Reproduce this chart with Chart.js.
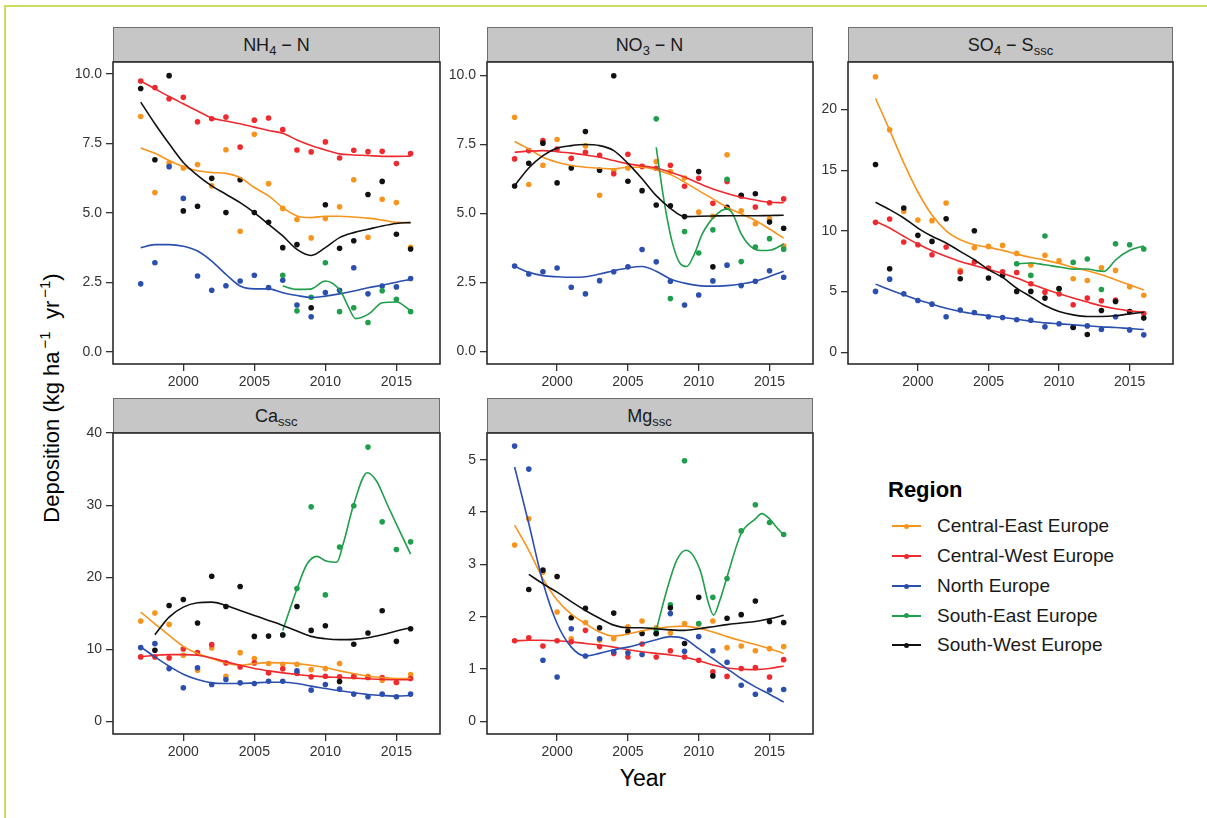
<!DOCTYPE html>
<html><head><meta charset="utf-8">
<script src="https://cdn.jsdelivr.net/npm/chart.js@4.4.1/dist/chart.umd.min.js"></script>
<style>
html,body{margin:0;padding:0;background:#fff;}
body{width:1207px;height:818px;position:relative;overflow:hidden;font-family:"Liberation Sans",Arial,sans-serif;color:#1a1a1a;}
.frame{position:absolute;left:4px;top:5px;width:1210px;height:820px;border-top:2px solid #cadd5e;border-left:2px solid #cadd5e;}
canvas{position:absolute;}
.strip{position:absolute;background:#c6c6c6;border:1px solid #6e6e6e;box-sizing:border-box;text-align:center;font-size:18px;color:#1a1a1a;}
.strip span{position:absolute;left:0;right:0;top:50%;transform:translateY(-50%);white-space:nowrap;line-height:20px;}
.strip sub{font-size:13px;vertical-align:-4px;line-height:0;}
.ytitle{position:absolute;left:50px;top:398px;transform:translate(-50%,-50%) rotate(-90deg);white-space:nowrap;font-size:22px;color:#000;}
.ytitle sup{font-size:15px;vertical-align:9px;margin-left:3px;}
.xtitle{position:absolute;left:643px;top:778px;transform:translate(-50%,-50%);font-size:23px;color:#000;}
.legtitle{position:absolute;left:888px;top:490px;transform:translateY(-50%);font-size:22px;font-weight:bold;color:#000;}
.legitem{position:absolute;left:892px;height:20px;transform:translateY(-50%);}
.legline{position:absolute;left:0;top:9px;width:29px;height:2px;}
.legdot{position:absolute;left:12px;top:7.5px;width:5px;height:5px;border-radius:50%;}
.legtext{position:absolute;left:45px;top:50%;transform:translateY(-50%);white-space:nowrap;font-size:19px;color:#1a1a1a;}
</style>
</head><body>
<div class="frame"></div>
<div class="ytitle">Deposition (kg ha<sup>−1</sup>&nbsp;&nbsp;yr<sup>−1</sup>)</div>
<div class="xtitle">Year</div>
<div id="legend"></div>
<script>
// ---------- categories ----------
const REGIONS = ['Central-East Europe','Central-West Europe','North Europe','South-East Europe','South-West Europe'];
const COLORS  = ['#f7941d','#ee2a2e','#2b4fae','#1f9e4b','#111111'];
const YEARS   = [1997,1998,1999,2000,2001,2002,2003,2004,2005,2006,2007,2008,2009,2010,2011,2012,2013,2014,2015,2016];
const SE_YEARS = [2007,2008,2009,2010,2011,2012,2013,2014,2015,2016];
const X_TICKS = [2000,2005,2010,2015];

// ---------- NH4-N ----------
const nh4_CE = [8.46,5.73,6.79,6.61,6.74,5.97,7.27,4.34,7.82,6.05,5.16,4.76,4.10,4.80,5.22,6.19,4.12,5.49,5.37,3.76];
const nh4_CW = [9.74,9.50,9.10,9.15,8.27,8.38,8.44,7.36,8.33,8.41,7.99,7.26,7.19,7.55,6.97,7.25,7.20,7.21,6.77,7.13];
const nh4_N  = [2.45,3.21,6.66,5.52,2.73,2.22,2.38,2.55,2.76,2.32,2.58,1.69,1.27,2.14,2.22,3.03,2.09,2.37,2.34,2.64];
const nh4_SE = [2.76,1.48,1.97,3.21,1.45,1.59,1.06,2.20,1.89,1.45];
const nh4_SW = [9.47,6.91,9.93,5.07,5.24,6.24,5.01,6.19,5.01,4.66,3.75,3.86,1.59,5.29,3.73,4.00,5.66,6.13,4.23,3.70];
const nh4_CE_fit = [7.33,7.14,6.88,6.66,6.51,6.45,6.42,6.27,5.91,5.61,5.19,4.89,4.83,4.88,4.88,4.85,4.81,4.74,4.66,4.65];
const nh4_CW_fit = [9.74,9.46,9.18,8.92,8.66,8.41,8.30,8.20,8.08,7.96,7.86,7.62,7.42,7.26,7.12,7.08,7.06,7.03,7.03,7.04];
const nh4_N_fit  = [3.75,3.86,3.86,3.80,3.63,3.27,2.79,2.37,2.27,2.27,2.13,2.03,1.96,2.01,2.09,2.19,2.31,2.40,2.51,2.61];
const nh4_SE_fitX = [2007,2008,2008.95,2010,2011.06,2011.65,2012.12,2013.06,2014,2015,2016];
const nh4_SE_fit  = [2.37,2.25,2.26,2.55,2.19,1.59,1.20,1.37,1.77,1.80,1.49];
const nh4_SW_fit = [8.98,8.20,7.48,6.81,6.35,5.97,5.67,5.37,5.01,4.59,4.17,3.69,3.47,3.75,4.11,4.29,4.41,4.53,4.62,4.65];

// ---------- NO3-N ----------
const no3_CE = [8.49,6.05,6.75,7.68,7.00,7.45,5.66,6.56,6.65,6.70,6.88,6.52,6.29,5.05,4.90,7.13,5.10,4.63,4.82,3.82];
const no3_CW = [6.98,7.28,7.64,7.34,7.00,7.22,7.11,6.44,7.15,6.71,6.64,6.75,5.99,6.28,5.37,6.16,5.63,5.24,5.39,5.53];
const no3_N  = [3.10,2.81,2.89,3.03,2.33,2.09,2.57,2.89,3.07,3.70,3.25,2.55,1.69,2.05,2.56,3.13,2.39,2.55,2.93,2.69];
const no3_SE = [8.43,1.92,4.35,3.57,4.41,6.24,3.26,3.79,4.09,3.71];
const no3_SW = [6.00,6.82,7.55,6.11,6.65,7.97,6.57,9.99,6.17,5.83,5.31,5.28,4.89,6.52,3.07,5.23,5.66,5.72,4.69,4.47];
const no3_CE_fit = [7.61,7.34,7.04,6.86,6.74,6.68,6.64,6.62,6.68,6.68,6.58,6.41,6.14,5.83,5.53,5.23,4.99,4.75,4.44,4.11];
const no3_CW_fit = [7.22,7.26,7.28,7.24,7.19,7.12,7.04,6.92,6.80,6.73,6.65,6.50,6.32,6.10,5.89,5.73,5.59,5.49,5.41,5.39];
const no3_N_fit  = [3.09,2.87,2.75,2.71,2.69,2.71,2.81,2.93,3.03,3.08,2.91,2.63,2.48,2.39,2.37,2.39,2.45,2.55,2.72,2.91];
const no3_SE_fitX = [2007,2007.55,2008.1,2008.7,2009.15,2009.7,2010.25,2011.1,2012,2012.4,2013,2013.6,2014.4,2015.1,2016];
const no3_SE_fit  = [7.40,5.47,4.02,3.18,3.08,3.54,4.26,4.89,5.17,4.99,4.26,3.84,3.66,3.68,3.90];
const no3_SW_fit = [6.01,6.65,7.10,7.37,7.46,7.50,7.46,7.28,6.82,6.26,5.65,5.19,4.89,4.90,4.91,4.92,4.92,4.92,4.93,4.94];

// ---------- SO4-S ssc ----------
const so4_CE = [22.70,18.32,11.61,10.89,10.84,12.30,6.74,8.61,8.72,8.80,8.14,7.18,7.98,7.54,6.05,5.91,6.96,6.74,5.39,4.70];
const so4_CW = [10.70,10.98,9.08,8.86,8.03,8.67,6.60,7.43,6.93,6.63,6.57,5.64,4.95,4.81,3.91,4.46,4.24,4.29,3.36,3.19];
const so4_N  = [5.01,6.02,4.81,4.26,3.96,2.92,3.47,3.27,2.92,2.86,2.67,2.64,2.09,2.34,2.04,2.17,1.87,2.92,1.84,1.43];
const so4_SE = [7.29,6.33,9.57,5.20,7.40,7.68,5.17,8.94,8.86,8.50];
const so4_SW = [15.46,6.88,11.88,9.63,9.13,11.00,6.05,10.01,6.11,6.33,5.01,5.01,4.46,5.25,2.06,1.46,3.44,4.18,3.36,2.81];
const so4_CE_fit = [20.90,18.30,15.60,13.20,11.30,10.00,9.27,8.86,8.64,8.39,8.09,7.81,7.59,7.32,6.99,6.71,6.38,5.97,5.56,5.12];
const so4_CW_fit = [10.78,10.23,9.55,8.91,8.36,7.90,7.48,7.15,6.82,6.49,6.11,5.64,5.20,4.81,4.46,4.13,3.82,3.58,3.41,3.30];
const so4_N_fit  = [5.61,5.14,4.73,4.32,3.96,3.63,3.36,3.16,3.00,2.86,2.72,2.56,2.42,2.34,2.26,2.17,2.09,2.04,1.95,1.87];
const so4_SE_fitX = [2007,2008,2009,2010,2011,2012,2012.6,2013.2,2013.4,2014,2015,2016];
const so4_SE_fit  = [7.29,7.35,7.20,7.02,6.85,6.86,6.73,6.66,6.80,7.60,8.40,8.75];
const so4_SW_fit = [12.35,11.75,11.06,10.23,9.55,9.00,8.31,7.62,6.80,6.16,5.28,4.57,3.85,3.36,3.08,2.94,2.94,3.00,3.16,3.30];

// ---------- Ca ssc ----------
const ca_CE = [13.91,15.02,13.45,9.17,7.09,10.18,6.26,9.53,8.71,8.02,7.92,7.92,7.18,7.32,8.02,6.17,6.26,5.71,5.39,6.50];
const ca_CW = [8.94,8.94,8.80,10.04,9.53,10.64,8.11,7.55,8.11,6.72,7.28,6.63,6.17,6.26,6.17,6.26,6.08,6.08,5.39,5.94];
const ca_N  = [10.23,10.78,7.32,4.65,7.42,5.11,5.80,5.34,5.25,5.57,5.57,7.00,4.33,5.11,4.47,3.78,3.41,3.78,3.41,3.78];
const ca_SE = [12.00,18.43,29.77,17.55,24.19,29.91,38.06,27.69,23.85,24.91];
const ca_SW = [null,9.86,16.08,16.91,13.64,20.14,15.94,18.71,11.79,11.83,11.98,15.94,12.62,13.27,5.53,10.69,12.25,15.34,11.10,12.85];
const ca_CE_fit = [15.16,13.54,11.93,10.41,9.40,8.71,8.11,7.78,8.01,8.15,8.11,8.01,7.78,7.46,7.00,6.63,6.26,6.08,5.94,5.94];
const ca_CW_fit = [8.94,9.17,9.26,9.26,9.17,8.80,8.25,7.78,7.32,7.00,6.72,6.49,6.31,6.17,6.08,5.99,5.89,5.80,5.76,5.76];
const ca_N_fit  = [10.33,8.94,7.65,6.54,5.80,5.34,5.25,5.25,5.34,5.43,5.43,5.25,4.88,4.56,4.24,3.96,3.73,3.59,3.50,3.59];
const ca_SE_fitX = [2007,2008,2008.7,2009.4,2010,2010.8,2011.25,2012,2012.95,2013.6,2014.35,2015,2016];
const ca_SE_fit  = [12.62,18.38,21.80,22.90,22.30,22.07,24.60,30.13,34.51,33.36,30.13,27.37,23.22];
const ca_SW_fit = [null,12.02,14.46,15.85,16.45,16.54,16.08,15.39,14.70,14.01,13.31,12.53,11.79,11.47,11.34,11.38,11.61,12.02,12.53,12.99];

// ---------- Mg ssc ----------
const mg_CE = [3.37,3.87,2.85,2.09,1.58,1.89,1.55,1.58,1.81,1.92,1.79,1.69,1.87,1.86,1.92,1.41,1.44,1.35,1.39,1.43];
const mg_CW = [1.54,1.60,1.44,1.54,1.52,1.74,1.43,1.30,1.23,1.48,1.23,1.35,1.23,1.17,0.95,0.86,1.01,1.03,0.85,1.18];
const mg_N  = [5.26,4.82,1.17,0.85,1.77,1.25,1.58,1.33,1.31,1.28,1.68,2.06,1.34,1.62,1.35,1.13,0.69,0.52,0.60,0.61];
const mg_SE = [1.75,2.23,4.98,1.87,2.37,2.73,3.64,4.14,3.80,3.57];
const mg_SW = [null,2.52,2.89,2.77,1.98,2.16,1.79,2.07,1.72,1.68,1.68,2.17,1.49,2.37,0.87,1.97,2.04,2.30,1.91,1.89];
const mg_CE_fit = [3.75,3.27,2.73,2.32,2.05,1.87,1.71,1.63,1.67,1.73,1.78,1.81,1.82,1.78,1.71,1.62,1.54,1.47,1.39,1.30];
const mg_CW_fit = [1.54,1.55,1.55,1.54,1.52,1.49,1.46,1.42,1.37,1.33,1.30,1.27,1.23,1.16,1.08,1.02,1.00,0.99,1.01,1.06];
const mg_N_fit  = [4.86,3.78,2.66,1.87,1.42,1.25,1.30,1.37,1.42,1.49,1.56,1.62,1.58,1.39,1.20,1.01,0.82,0.66,0.52,0.37];
const mg_SE_fitX = [2007,2007.75,2008.45,2009.1,2010.1,2010.7,2011.05,2011.5,2012,2013,2014,2014.45,2015,2015.5,2016];
const mg_SE_fit  = [1.74,2.51,3.08,3.27,2.89,2.25,2.03,2.32,2.76,3.59,3.87,3.97,3.87,3.71,3.56];
const mg_SW_fit = [null,2.81,2.63,2.47,2.29,2.12,1.97,1.84,1.79,1.79,1.77,1.75,1.74,1.77,1.81,1.85,1.88,1.91,1.96,2.03];

// ---------- axis ticks ----------
const nh4_ticks = [0,2.5,5,7.5,10];
const no3_ticks = [0,2.5,5,7.5,10];
const so4_ticks = [0,5,10,15,20];
const ca_ticks  = [0,10,20,30,40];
const mg_ticks  = [0,1,2,3,4,5];

// ---------- panel layout (positions only) ----------
const X_MIN = 1995.05, X_MAX = 2018.07;
const PANELS = [
  {id:'nh4', title:'NH<sub>4</sub> − N', box:{l:113,t:61.5,r:440,b:363.5}, ymin:-0.43, ymax:10.42, ticks:nh4_ticks, dec:1,
   pts:[nh4_CE,nh4_CW,nh4_N,nh4_SE,nh4_SW], fit:[nh4_CE_fit,nh4_CW_fit,nh4_N_fit,nh4_SE_fit,nh4_SW_fit], seX:nh4_SE_fitX},
  {id:'no3', title:'NO<sub>3</sub> − N', box:{l:486.5,t:61.5,r:812.5,b:363.5}, ymin:-0.45, ymax:10.49, ticks:no3_ticks, dec:1,
   pts:[no3_CE,no3_CW,no3_N,no3_SE,no3_SW], fit:[no3_CE_fit,no3_CW_fit,no3_N_fit,no3_SE_fit,no3_SW_fit], seX:no3_SE_fitX},
  {id:'so4', title:'SO<sub>4</sub> − S<sub>ssc</sub>', box:{l:848,t:61.5,r:1173,b:363.5}, ymin:-0.97, ymax:23.91, ticks:so4_ticks, dec:0,
   pts:[so4_CE,so4_CW,so4_N,so4_SE,so4_SW], fit:[so4_CE_fit,so4_CW_fit,so4_N_fit,so4_SE_fit,so4_SW_fit], seX:so4_SE_fitX},
  {id:'ca', title:'Ca<sub>ssc</sub>', box:{l:113,t:432.7,r:439.5,b:734}, ymin:-1.76, ymax:40.02, ticks:ca_ticks, dec:0,
   pts:[ca_CE,ca_CW,ca_N,ca_SE,ca_SW], fit:[ca_CE_fit,ca_CW_fit,ca_N_fit,ca_SE_fit,ca_SW_fit], seX:ca_SE_fitX},
  {id:'mg', title:'Mg<sub>ssc</sub>', box:{l:486.5,t:432.7,r:812.5,b:734}, ymin:-0.24, ymax:5.51, ticks:mg_ticks, dec:0,
   pts:[mg_CE,mg_CW,mg_N,mg_SE,mg_SW], fit:[mg_CE_fit,mg_CW_fit,mg_N_fit,mg_SE_fit,mg_SW_fit], seX:mg_SE_fitX}
];

const AXW = 55, AXH = 30, PAD = 3, PADT = 16;
const toXY = (xs, ys) => xs.map((x,i)=>({x:x, y:ys[i]})).filter(d => d.y !== null && d.y !== undefined);

const boxPlugin = {
  id:'panelBox',
  afterDraw(chart){
    const a = chart.chartArea, c = chart.ctx;
    c.save();
    c.strokeStyle = '#2b2b2b'; c.lineWidth = 1.6;
    c.strokeRect(a.left, a.top, a.right - a.left, a.bottom - a.top);
    c.restore();
  }
};

PANELS.forEach(p => {
  const b = p.box;
  const W = Math.round((b.r - b.l) + AXW + PAD);
  const H = Math.round((b.b - b.t) + PADT + AXH);
  // strip
  const s = document.createElement('div');
  s.className = 'strip';
  s.style.left = b.l + 'px'; s.style.top = (b.t - 34.5) + 'px';
  s.style.width = (b.r - b.l) + 'px'; s.style.height = '35px';
  s.innerHTML = '<span>' + p.title + '</span>';
  document.body.appendChild(s);
  // canvas
  const cv = document.createElement('canvas');
  cv.width = W; cv.height = H;
  cv.style.left = (b.l - AXW) + 'px'; cv.style.top = (b.t - PADT) + 'px';
  cv.style.width = W + 'px'; cv.style.height = H + 'px';
  document.body.appendChild(cv);

  const datasets = [];
  for (let i = 0; i < 5; i++) {
    const xsPts = (i === 3) ? SE_YEARS : YEARS;
    const xsFit = (i === 3) ? p.seX : YEARS;
    datasets.push({
      label: REGIONS[i] + ' fit', data: toXY(xsFit, p.fit[i]),
      borderColor: COLORS[i], backgroundColor: COLORS[i], borderWidth: 1.6,
      pointRadius: 0, showLine: true, cubicInterpolationMode: 'monotone', order: 4 - i
    });
    datasets.push({
      label: REGIONS[i], data: toXY(xsPts, p.pts[i]),
      borderColor: COLORS[i], backgroundColor: COLORS[i], borderWidth: 0,
      pointRadius: 2.8, pointHoverRadius: 2.8, showLine: false, order: 14 - i
    });
  }

  new Chart(cv, {
    type: 'line',
    data: { datasets },
    plugins: [boxPlugin],
    options: {
      responsive: false, animation: false, devicePixelRatio: 1,
      layout: { padding: { top: PADT, right: PAD, left: 0, bottom: 0 } },
      plugins: { legend: { display: false }, tooltip: { enabled: false } },
      events: [],
      scales: {
        x: {
          type: 'linear', min: X_MIN, max: X_MAX,
          afterBuildTicks: sc => { sc.ticks = X_TICKS.map(v => ({ value: v })); },
          afterFit: sc => { sc.height = AXH; },
          grid: { drawOnChartArea: false, drawTicks: true, tickLength: 7, color: '#333', lineWidth: 1.3 },
          border: { display: false },
          ticks: { color: '#333', font: { size: 14, family: '"Liberation Sans", Arial, sans-serif' }, padding: 3, maxRotation: 0,
                   callback: v => String(v) }
        },
        y: {
          type: 'linear', min: p.ymin, max: p.ymax,
          afterBuildTicks: sc => { sc.ticks = p.ticks.map(v => ({ value: v })); },
          afterFit: sc => { sc.width = AXW; },
          grid: { drawOnChartArea: false, drawTicks: true, tickLength: 7, color: '#333', lineWidth: 1.3 },
          border: { display: false },
          ticks: { color: '#333', font: { size: 14, family: '"Liberation Sans", Arial, sans-serif' }, padding: 4,
                   callback: v => Number(v).toFixed(p.dec) }
        }
      }
    }
  });
});

// legend
const leg = document.getElementById('legend');
const t = document.createElement('div'); t.className = 'legtitle'; t.textContent = 'Region'; leg.appendChild(t);
const LEG_Y = [526, 556, 586, 615.5, 645];
REGIONS.forEach((r, i) => {
  const it = document.createElement('div'); it.className = 'legitem'; it.style.top = LEG_Y[i] + 'px';
  it.innerHTML = '<div class="legline" style="background:' + COLORS[i] + '"></div>' +
                 '<div class="legdot" style="background:' + COLORS[i] + '"></div>' +
                 '<div class="legtext">' + r + '</div>';
  leg.appendChild(it);
});
</script>
</body></html>
